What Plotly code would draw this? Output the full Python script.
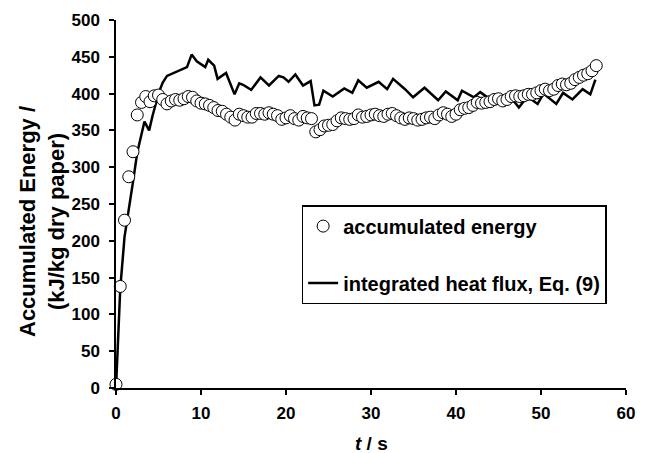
import plotly.graph_objects as go

# accumulated energy (markers), sampled every 0.5 s
t_marker = [0.0, 0.5, 1.0, 1.5, 2.0, 2.5, 3.0, 3.5, 4.0, 4.5, 5.0, 5.5, 6.0, 6.5, 7.0, 7.5, 8.0, 8.5, 9.0, 9.5,
            10.0, 10.5, 11.0, 11.5, 12.0, 12.5, 13.0, 13.5, 14.0, 14.5, 15.0, 15.5, 16.0, 16.5, 17.0, 17.5, 18.0, 18.5, 19.0, 19.5,
            20.0, 20.5, 21.0, 21.5, 22.0, 22.5, 23.0, 23.5, 24.0, 24.5, 25.0, 25.5, 26.0, 26.5, 27.0, 27.5, 28.0, 28.5, 29.0, 29.5,
            30.0, 30.5, 31.0, 31.5, 32.0, 32.5, 33.0, 33.5, 34.0, 34.5, 35.0, 35.5, 36.0, 36.5, 37.0, 37.5, 38.0, 38.5, 39.0, 39.5,
            40.0, 40.5, 41.0, 41.5, 42.0, 42.5, 43.0, 43.5, 44.0, 44.5, 45.0, 45.5, 46.0, 46.5, 47.0, 47.5, 48.0, 48.5, 49.0, 49.5,
            50.0, 50.5, 51.0, 51.5, 52.0, 52.5, 53.0, 53.5, 54.0, 54.5, 55.0, 55.5, 56.0, 56.5]
e_marker = [5, 138, 228, 287, 321, 371, 388, 396, 389, 397, 398, 392, 386, 390, 392, 391, 393, 396, 395, 390,
            387, 386, 384, 381, 377, 376, 372, 368, 364, 372, 370, 368, 368, 373, 373, 372, 374, 372, 370, 365,
            367, 370, 366, 364, 369, 367, 366, 348, 351, 356, 357, 358, 363, 367, 366, 365, 366, 371, 368, 369,
            371, 372, 370, 369, 372, 373, 370, 367, 365, 367, 366, 364, 365, 367, 368, 366, 371, 374, 372, 369,
            372, 378, 380, 381, 384, 388, 387, 388, 389, 392, 393, 390, 392, 396, 397, 396, 397, 399, 399, 401,
            404, 406, 404, 406, 411, 413, 412, 414, 419, 422, 425, 427, 431, 438]

# integrated heat flux, Eq. (9) (line)
t_line = [0.0, 0.5, 1.0, 1.5, 2.0, 2.5, 2.9, 3.35, 3.9, 4.3, 5.05, 5.5, 6.0, 6.6, 7.4, 8.35, 8.9, 9.5,
          10.5, 10.85, 11.55, 11.95, 12.95, 13.95, 14.5, 14.95, 15.9, 17.0, 18.0, 19.15, 19.7, 20.3,
          21.1, 22.0, 22.9, 23.35, 23.9, 24.4, 25.5, 26.85, 27.8, 28.5, 29.5, 30.9, 31.9, 32.6, 34.0,
          34.95, 36.3, 37.9, 38.8, 40.2, 40.7, 42.1, 42.85, 43.7, 44.6, 45.6, 46.3, 47.4, 48.4, 49.6,
          50.3, 51.8, 52.6, 53.7, 54.9, 55.8, 56.4]
e_line = [0, 135, 205, 240, 280, 320, 338, 362, 350, 370, 402, 415, 424, 427, 432, 436, 453, 444,
          436, 446, 438, 420, 428, 399, 414, 412, 405, 422, 411, 424, 422, 416,
          426, 411, 417, 384, 385, 404, 396, 407, 401, 418, 408, 416, 406, 420, 406,
          395, 408, 391, 403, 391, 404, 395, 402, 395, 398, 390, 397, 381, 396, 386,
          400, 386, 401, 392, 406, 399, 419]

x_ticks = [0, 10, 20, 30, 40, 50, 60]
y_ticks = [0, 50, 100, 150, 200, 250, 300, 350, 400, 450, 500]

FONT = "Liberation Sans"

fig = go.Figure()
fig.add_trace(go.Scatter(
    x=t_line, y=e_line, mode="lines",
    name="integrated heat flux, Eq. (9)",
    line=dict(color="black", width=2.5),
    legendgroup="b", legendrank=2, cliponaxis=False,
))
fig.add_trace(go.Scatter(
    x=t_marker, y=e_marker, mode="markers",
    name="accumulated energy",
    marker=dict(symbol="circle", size=12, color="white", line=dict(color="black", width=1)),
    legendgroup="a", legendrank=1, cliponaxis=False,
))

axis_common = dict(
    showline=True, linecolor="black", linewidth=1.5, mirror=False,
    ticks="outside", ticklen=5, tickwidth=1.5, tickcolor="black",
    showgrid=False, zeroline=False,
    tickfont=dict(family=FONT, size=17, color="black", weight="bold"),
)

fig.update_layout(
    width=646, height=453,
    margin=dict(l=116, r=11, t=20, b=65),
    paper_bgcolor="white", plot_bgcolor="white",
    xaxis=dict(range=[0, 60], tickvals=x_ticks, ticklabelstandoff=4, **axis_common),
    yaxis=dict(range=[0, 500], tickvals=y_ticks, ticklabelstandoff=6, **axis_common),
    legend=dict(
        x=0.364, y=0.497, xanchor="left", yanchor="top",
        bordercolor="black", borderwidth=1.5, bgcolor="white",
        font=dict(family=FONT, size=20, color="black", weight="bold"),
        tracegroupgap=28, traceorder="grouped",
        itemwidth=30,
    ),
    showlegend=True,
)

fig.add_annotation(
    xref="paper", yref="paper", x=0.5, y=0, yshift=-55,
    text="<i>t</i> / s", showarrow=False,
    xanchor="center", yanchor="middle",
    font=dict(family=FONT, size=19, color="black", weight="bold"),
)
fig.add_annotation(
    xref="paper", yref="paper", x=0, y=0.5, xshift=-74, yshift=-18,
    text="Accumulated Energy /<br>(kJ/kg dry paper)", showarrow=False,
    textangle=-90, xanchor="center", yanchor="middle",
    font=dict(family=FONT, size=22, color="black", weight="bold"),
)

fig.write_html("out.html")
